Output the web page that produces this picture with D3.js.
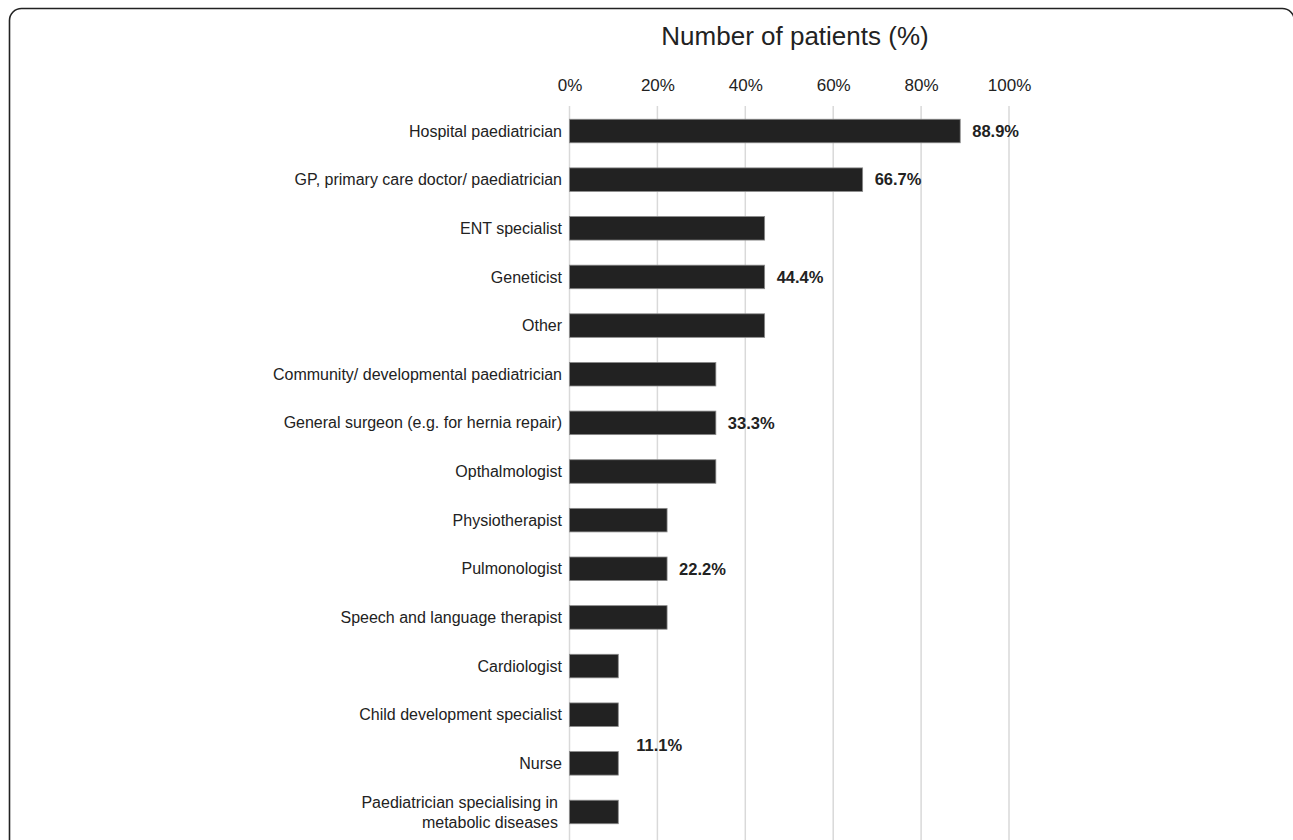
<!DOCTYPE html>
<html>
<head>
<meta charset="utf-8">
<script src="https://cdn.jsdelivr.net/npm/d3@7"></script>
<style>
  body { margin: 0; background: #fff; }
  svg { display: block; font-family: "Liberation Sans", Arial, sans-serif; }
</style>
</head>
<body>
<div class="grafico"></div>
<script>
const categories = [
    "Hospital paediatrician",
    "GP, primary care doctor/ paediatrician",
    "ENT specialist",
    "Geneticist",
    "Other",
    "Community/ developmental paediatrician",
    "General surgeon (e.g. for hernia repair)",
    "Opthalmologist",
    "Physiotherapist",
    "Pulmonologist",
    "Speech and language therapist",
    "Cardiologist",
    "Child development specialist",
    "Nurse",
    "Paediatrician specialising in\nmetabolic diseases"
];
const values = [88.9, 66.7, 44.4, 44.4, 44.4, 33.3, 33.3, 33.3, 22.2, 22.2, 22.2, 11.1, 11.1, 11.1, 11.1];
// rows that carry a value label (the last one sits between two bars)
const labelledRows = [0, 1, 3, 6, 9, 12];
const tickValues = [0, 20, 40, 60, 80, 100];
const axisTitle = "Number of patients (%)";

const width = 1293, height = 840;

const svg = d3.select(".grafico")
    .append("svg")
    .attr("width", width)
    .attr("height", height);

// outer frame with rounded corners (runs off the right and bottom edge)
svg.append("rect")
    .attr("x", 9.5)
    .attr("y", 8.5)
    .attr("width", 1284.8)
    .attr("height", 900)
    .attr("rx", 12)
    .attr("fill", "none")
    .attr("stroke", "#222")
    .attr("stroke-width", 1.6);

const x = d3.scaleLinear()
    .domain([0, 100])
    .range([569.5, 1009]);

const y = d3.scaleBand()
    .domain(categories)
    .range([106.7, 836.3])
    .paddingInner(0.516)
    .paddingOuter(0.258);

// gridlines
svg.append("g")
    .selectAll("line")
    .data(tickValues)
    .enter().append("line")
    .attr("x1", d => x(d))
    .attr("x2", d => x(d))
    .attr("y1", 106)
    .attr("y2", height)
    .attr("stroke", "#d9d9d9")
    .attr("stroke-width", 1.5);

// top axis labels
const axis = svg.append("g")
    .attr("transform", "translate(0,91)")
    .call(d3.axisTop(x).tickValues(tickValues).tickFormat(d => d + "%").tickSize(0).tickPadding(0));
axis.select(".domain").remove();
axis.selectAll("text")
    .attr("font-size", 17)
    .attr("font-family", "Liberation Sans, Arial, sans-serif")
    .attr("fill", "#222")
    .attr("dy", 0);

svg.append("text")
    .attr("x", 795)
    .attr("y", 45)
    .attr("text-anchor", "middle")
    .attr("font-size", 26)
    .attr("fill", "#222")
    .text(axisTitle);

// bars
svg.append("g")
    .selectAll("rect")
    .data(values)
    .enter().append("rect")
    .attr("x", x(0))
    .attr("y", (d, i) => y(categories[i]))
    .attr("width", d => x(d) - x(0))
    .attr("height", y.bandwidth())
    .attr("fill", "#222")
    .attr("stroke", "#8a8a8a")
    .attr("stroke-width", 0.8);

// category labels
const cat = svg.append("g")
    .selectAll("text")
    .data(categories)
    .enter().append("text")
    .attr("text-anchor", "end")
    .attr("font-size", 16)
    .attr("fill", "#222");

cat.each(function (d) {
    const lines = d.split("\n");
    const cy = y(d) + y.bandwidth() / 2;
    const lh = 20;
    const t = d3.select(this);
    lines.forEach((line, k) => {
        t.append("tspan")
            .attr("x", lines.length > 1 ? 558 : 562)
            .attr("y", cy + (k - (lines.length - 1) / 2) * lh)
            .attr("dy", "0.35em")
            .text(line);
    });
});

// value labels
svg.append("g")
    .selectAll("text")
    .data(labelledRows)
    .enter().append("text")
    .attr("x", (r, k) => x(values[r]) + (k === labelledRows.length - 1 ? 18 : 12))
    .attr("y", (r, k) => y(categories[r]) + y.bandwidth() / 2 + (k === labelledRows.length - 1 ? y.step() * 0.62 : 0))
    .attr("dy", "0.35em")
    .attr("font-size", 16.5)
    .attr("font-weight", "bold")
    .attr("fill", "#222")
    .text(r => values[r].toFixed(1) + "%");
</script>
</body>
</html>
